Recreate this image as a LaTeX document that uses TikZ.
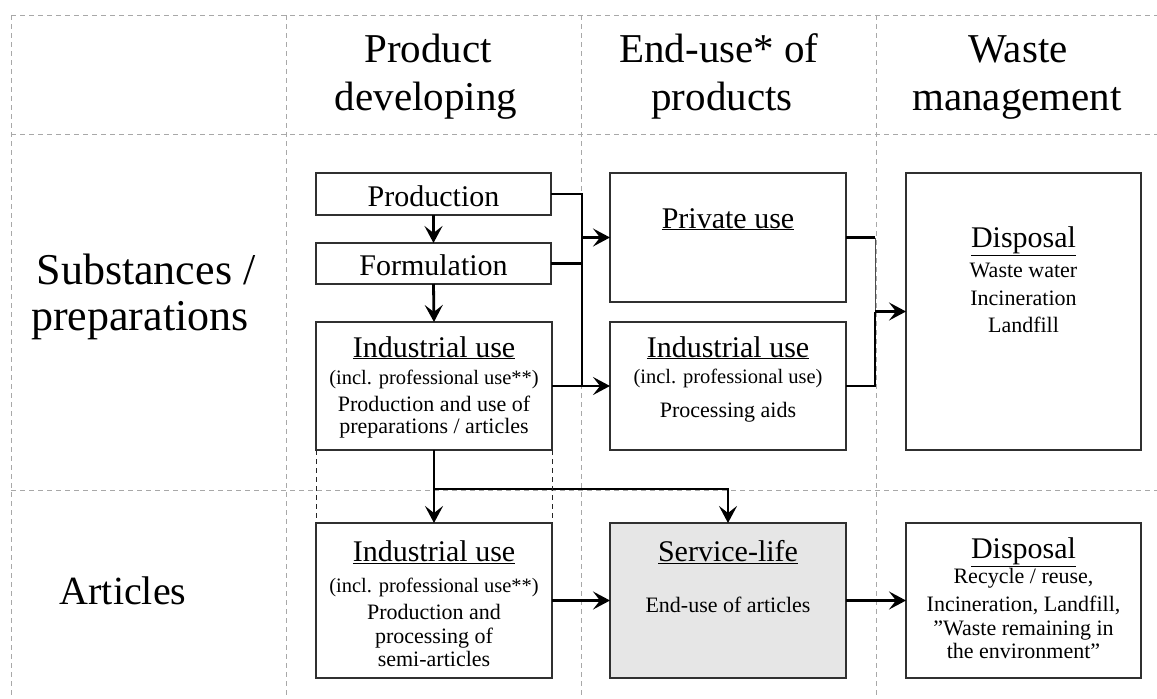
\documentclass[tikz,border=0pt]{standalone}
\usepackage{fontspec}
\setmainfont{Liberation Serif}
\usetikzlibrary{arrows.meta}
\newcommand\fHead{\fontsize{41}{41}\selectfont}
\newcommand\fSide{\fontsize{40}{40}\selectfont}
\newcommand\fSideB{\fontsize{44}{44}\selectfont}
\newcommand\fTitle{\fontsize{30}{30}\selectfont}
\newcommand\fSub{\fontsize{20.5}{20.5}\selectfont}
\newcommand\fBody{\fontsize{22}{22}\selectfont}
\definecolor{gridc}{HTML}{A8A8A8}
\definecolor{boxc}{HTML}{303030}
\definecolor{servc}{HTML}{E6E6E6}
\tikzset{
  gridline/.style={draw=gridc, line width=1pt, dash pattern=on 5pt off 4pt},
  blackdash/.style={draw=black!85, line width=1pt, dash pattern=on 5pt off 4pt},
  box/.style={draw=boxc, line width=1.2pt, fill=white, inner sep=0pt, outer sep=0pt},
  conn/.style={draw=black, line width=2.8pt},
  thinconn/.style={draw=black!70, line width=1pt},
  arr/.style={conn, -{Stealth[length=17pt, width=18pt, inset=7pt]}},
  t/.style={anchor=base, inner sep=0pt, outer sep=0pt},
}
\begin{document}
\begin{tikzpicture}[x=1pt, y=-1pt]
\useasboundingbox (0,0) rectangle (1157,699);
\fill[white] (0,0) rectangle (1157,699);
% grid
\draw[gridline] (11,15) -- (1157,15);
\draw[gridline] (11,134) -- (1157,134);
\draw[gridline] (11,490) -- (1157,490);
\draw[gridline] (11,15) -- (11,699);
\draw[gridline] (286,15) -- (286,699);
\draw[gridline] (581,15) -- (581,699);
\draw[gridline] (876,15) -- (876,699);
% headers
\node[t] (h1a) at (428,62) {\fHead Product};
\node[t] (h1b) at (426,110) {\fHead developing};
\node[t] (h2a) at (719,62) {\fHead End-use* of};
\node[t] (h2b) at (722,110) {\fHead products};
\node[t] (h3a) at (1018,62) {\fHead Waste};
\node[t] (h3b) at (1017,110) {\fHead management};
% side labels
\node[t] (l1a) at (146,284) {\fSideB Substances /};
\node[t] (l1b) at (140,330) {\fSideB preparations};
\node[t] (l2) at (123,604) {\fSide Articles};
% boxes
\node[box, minimum width=235pt, minimum height=42pt] (prod) at (433.5,194) {};
\node[box, minimum width=235pt, minimum height=41pt] (form) at (433.5,263.5) {};
\node[box, minimum width=236pt, minimum height=128pt] (ind1) at (434,386) {};
\node[box, minimum width=236pt, minimum height=129pt] (priv) at (728,237.5) {};
\node[box, minimum width=236pt, minimum height=128pt] (ind2) at (728,386) {};
\node[box, minimum width=235pt, minimum height=277pt] (disp1) at (1023.5,311.5) {};
\node[box, minimum width=236pt, minimum height=155pt] (ind3) at (434,600.5) {};
\node[box, fill=servc, minimum width=236pt, minimum height=155pt] (serv) at (728,600.5) {};
\node[box, minimum width=235pt, minimum height=155pt] (disp2) at (1023.5,600.5) {};
% box texts
\node[t] (prodt) at (433.5,206) {\fTitle Production};
\node[t] (formt) at (433.5,275) {\fTitle Formulation};
\node[t] (ind1a) at (434,357) {\fTitle\underline{Industrial use}};
\node[t] (ind1b) at (434,384) {\fSub (incl. professional use**)};
\node[t] (ind1c) at (434,411) {\fBody Production and use of};
\node[t] (ind1d) at (434,433) {\fBody preparations / articles};
\node[t] (priva) at (728,228) {\fTitle\underline{Private use}};
\node[t] (ind2a) at (728,357) {\fTitle\underline{Industrial use}};
\node[t] (ind2b) at (728,383) {\fSub (incl. professional use)};
\node[t] (ind2c) at (728,417) {\fBody Processing aids};
\node[t] (d1a) at (1023.5,247) {\fTitle\underline{Disposal}};
\node[t] (d1b) at (1023.5,277) {\fBody Waste water};
\node[t] (d1c) at (1023.5,305) {\fBody Incineration};
\node[t] (d1d) at (1023.5,332) {\fBody Landfill};
\node[t] (ind3a) at (434,561) {\fTitle\underline{Industrial use}};
\node[t] (ind3b) at (434,592) {\fSub (incl. professional use**)};
\node[t] (ind3c) at (434,619) {\fBody Production and};
\node[t] (ind3d) at (434,643) {\fBody processing of};
\node[t] (ind3e) at (434,666) {\fBody semi-articles};
\node[t] (serva) at (728,561) {\fTitle\underline{Service-life}};
\node[t] (servb) at (728,612) {\fBody End-use of articles};
\node[t] (d2a) at (1023.5,558) {\fTitle\underline{Disposal}};
\node[t] (d2b) at (1023.5,583) {\fBody Recycle / reuse,};
\node[t] (d2c) at (1023.5,611) {\fBody Incineration, Landfill,};
\node[t] (d2d) at (1023.5,635) {\fBody ”Waste remaining in};
\node[t] (d2e) at (1023.5,658) {\fBody the environment”};
% helper coordinates
\coordinate (bx) at (582,0);
\coordinate (rx) at (875,0);
\coordinate (by) at (0,489);
% left bus
\draw[conn] (prod.east) -- (prod.east -| bx) -- (ind1.east -| bx);
\draw[conn] (form.east) -- (form.east -| bx);
\draw[arr] (priv.west -| bx) -- (priv.west);
\draw[arr] (ind1.east) -- (ind2.west);
% right bus
\draw[conn] (priv.east) -- (priv.east -| rx);
\draw[thinconn] (priv.east -| rx) -- (disp1.west -| rx);
\draw[conn] (disp1.west -| rx) -- (ind2.east -| rx) -- (ind2.east);
\draw[arr] (disp1.west -| rx) -- (disp1.west);
% vertical chain
\draw[arr] (prod.south) -- (form.north);
\draw[arr] (form.south) -- (ind1.north);
\draw[arr] (ind1.south) -- (ind3.north);
\draw[arr] (ind1.south |- by) -- (serv.north |- by) -- (serv.north);
\draw[blackdash] (ind1.south west) -- (ind3.north west);
\draw[blackdash] (ind1.south east) -- (ind3.north east);
% bottom row
\draw[arr] (ind3.east) -- (serv.west);
\draw[arr] (serv.east) -- (disp2.west);
\end{tikzpicture}
\end{document}
